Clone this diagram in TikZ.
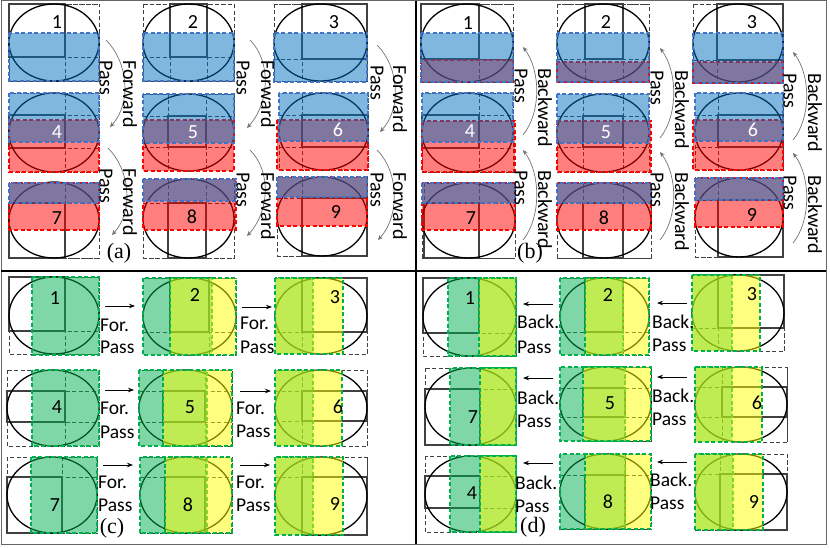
\documentclass[tikz,border=0pt]{standalone}
\usepackage{fontspec}
\setmainfont{Carlito}
\newfontfamily\panelfont{Liberation Serif}
\usetikzlibrary{arrows.meta}
\definecolor{cBlue}{RGB}{0,112,192}
\definecolor{cBlueLine}{RGB}{68,114,196}
\definecolor{cRed}{RGB}{255,0,0}
\definecolor{cGreen}{RGB}{0,176,80}
\definecolor{cYellow}{RGB}{255,255,0}
% x1 y1 x2 y2 (padded region)  tx1 ty1 tx2 ty2 (tile)
\newcommand{\drawtile}[8]{%
  \draw[outerbox] (#5,#2) -- (#5,#4) (#7,#2) -- (#7,#4) (#1,#6) -- (#3,#6) (#1,#8) -- (#3,#8);
  \draw[outerbox] (#1,#2) rectangle (#3,#4);
  \draw[tilebox] (#5,#6) rectangle (#7,#8);
  \draw[ell] ({(#1+#3)/2},{(#2+#4)/2}) ellipse ({(#3-#1)/2} and {(#4-#2)/2});
}
\begin{document}
\begin{tikzpicture}[x=1pt,y=-1pt,
  outerbox/.style={draw=black!75, line width=0.8pt, dash pattern=on 4pt off 2.5pt},
  tilebox/.style={draw=black!75, line width=1.1pt},
  ell/.style={draw=black, line width=1.3pt},
  bred/.style={fill=cRed, fill opacity=0.5, draw=cRed, line width=1.5pt, dash pattern=on 4pt off 2.5pt},
  bblue/.style={fill=cBlue, fill opacity=0.5, draw=cBlueLine, line width=1.3pt, dash pattern=on 4pt off 2.5pt},
  bgreen/.style={fill=cGreen, fill opacity=0.5, draw=cGreen, line width=1.3pt, dash pattern=on 4pt off 2.5pt},
  byellow/.style={fill=cYellow, fill opacity=0.5, draw=cGreen, line width=1.3pt, dash pattern=on 4pt off 2.5pt},
  num/.style={inner sep=0pt, font=\fontsize{20}{22}\selectfont},
  numw/.style={num, text=white},
  rottext/.style={inner sep=0pt, rotate=-90, anchor=west, font=\fontsize{20}{22}\selectfont},
  sidetext/.style={inner sep=0pt, anchor=west, font=\fontsize{19.5}{22}\selectfont},
  curvarrow/.style={draw=black!55, line width=0.7pt, -{Stealth[length=5pt,width=4.5pt]}},
  passarrow/.style={draw=black, line width=0.8pt, -{Stealth[length=6pt,width=4.5pt]}},
  panellabel/.style={inner sep=0pt, font=\panelfont\fontsize{22}{24}\selectfont}
]
\useasboundingbox (0,0) rectangle (830,548);
\draw[black!60, line width=1pt] (1,1) rectangle (826,544);
\draw[black, line width=1.2pt] (416,1) -- (416,544);
\draw[black, line width=1.2pt] (1,271) -- (826,271);

%%%%%%%%%%%%%%%% panel (a)
\drawtile{9}{4}{99}{81}{9}{4}{65}{57}
\path[bblue] (9,33) rectangle (99,81);
\node[num] (la1) at (57,22) {1};
\drawtile{143}{4}{234}{81}{170}{4}{207}{57}
\path[bblue] (143,33) rectangle (234,81);
\node[num] (la2) at (193,22) {2};
\drawtile{274}{4}{367}{81}{302}{4}{367}{59}
\path[bblue] (274,33) rectangle (367,82);
\node[num] (la3) at (334,22) {3};
\drawtile{9}{93}{99}{172}{9}{115}{65}{148}
\path[bred] (9,120) rectangle (99,172);
\path[bblue] (9,93) rectangle (99,142);
\node[numw] (la4) at (57,132) {4};
\drawtile{143}{94}{234}{171}{168}{116}{206}{147}
\path[bred] (143,120) rectangle (234,171);
\path[bblue] (143,94) rectangle (234,143);
\node[numw] (la5) at (193,132) {5};
\drawtile{279}{93}{368}{170}{302}{115}{368}{147}
\path[bred] (277,120) rectangle (368,170);
\path[bblue] (279,93) rectangle (368,141);
\node[numw] (la6) at (338,130) {6};
\drawtile{9}{182}{99}{258}{9}{203}{65}{258}
\path[bred] (9,183) rectangle (99,230);
\path[bblue] (9,183) rectangle (99,203);
\node[num] (la7) at (57,218) {7};
\drawtile{143}{179}{234}{258}{168}{203}{206}{258}
\path[bred] (143,179) rectangle (236,230);
\path[bblue] (143,179) rectangle (236,201);
\node[num] (la8) at (192,217) {8};
\drawtile{277}{177}{367}{256}{302}{198}{367}{256}
\path[bred] (277,177) rectangle (367,226);
\path[bblue] (277,177) rectangle (367,197);
\node[num] (la9) at (336,212) {9};

\coordinate (af1s) at (106,40);  \coordinate (af1e) at (110,127);
\coordinate (af2s) at (108,148); \coordinate (af2e) at (112,235);
\coordinate (af3s) at (250,40);  \coordinate (af3e) at (247,128);
\coordinate (af4s) at (250,150); \coordinate (af4e) at (247,236);
\coordinate (af5s) at (377,45);  \coordinate (af5e) at (380,132);
\coordinate (af6s) at (377,150); \coordinate (af6e) at (378,240);
\foreach \i in {1,...,6}{
  \draw[curvarrow] (af\i s) .. controls +(22,22) and +(22,-24) .. (af\i e);
}
\node[rottext] (taf1) at (130,60) {Forward};  \node[rottext] (tap1) at (106,60) {Pass};
\node[rottext] (taf2) at (130,168) {Forward}; \node[rottext] (tap2) at (106,168) {Pass};
\node[rottext] (taf3) at (268,60) {Forward};  \node[rottext] (tap3) at (243,60) {Pass};
\node[rottext] (taf4) at (268,172) {Forward}; \node[rottext] (tap4) at (243,172) {Pass};
\node[rottext] (taf5) at (400,65) {Forward};  \node[rottext] (tap5) at (377,65) {Pass};
\node[rottext] (taf6) at (400,172) {Forward}; \node[rottext] (tap6) at (377,172) {Pass};
\node[panellabel] (pa) at (119,253) {(a)};

%%%%%%%%%%%%%%%% panel (b)
\drawtile{421}{4}{513}{82}{421}{4}{479}{59}
\path[bred] (421,60) rectangle (513,82);
\path[bblue] (421,33) rectangle (513,82);
\node[num] (lb1) at (468,23) {1};
\drawtile{557}{4}{649}{82}{585}{4}{623}{59}
\path[bred] (557,62) rectangle (649,82);
\path[bblue] (557,33) rectangle (649,82);
\node[num] (lb2) at (606,22) {2};
\drawtile{693}{4}{783}{82}{717}{4}{783}{60}
\path[bred] (693,62) rectangle (783,83);
\path[bblue] (693,33) rectangle (783,83);
\node[num] (lb3) at (752,22) {3};
\drawtile{422}{93}{513}{172}{422}{115}{479}{148}
\path[bred] (422,121) rectangle (515,172);
\path[bblue] (422,93) rectangle (513,142);
\node[numw] (lb4) at (470,131) {4};
\drawtile{557}{94}{649}{172}{583}{116}{623}{147}
\path[bred] (557,121) rectangle (651,172);
\path[bblue] (557,94) rectangle (649,143);
\node[numw] (lb5) at (606,132) {5};
\drawtile{695}{93}{783}{170}{718}{115}{783}{147}
\path[bred] (693,120) rectangle (783,170);
\path[bblue] (695,93) rectangle (783,141);
\node[numw] (lb6) at (753,130) {6};
\drawtile{422}{183}{515}{258}{424}{203}{479}{258}
\path[bred] (422,183) rectangle (515,230);
\path[bblue] (422,183) rectangle (515,203);
\node[num] (lb7) at (471,218) {7};
\drawtile{557}{183}{651}{258}{583}{203}{623}{258}
\path[bred] (557,183) rectangle (651,230);
\path[bblue] (557,183) rectangle (651,203);
\node[num] (lb8) at (604,218) {8};
\drawtile{695}{178}{783}{257}{718}{200}{783}{257}
\path[bred] (695,178) rectangle (783,227);
\path[bblue] (695,178) rectangle (783,200);
\node[num] (lb9) at (752,215) {9};

\coordinate (ab1s) at (523,135); \coordinate (ab1e) at (523,47);
\coordinate (ab2s) at (523,240); \coordinate (ab2e) at (523,150);
\coordinate (ab3s) at (660,138); \coordinate (ab3e) at (660,48);
\coordinate (ab4s) at (660,240); \coordinate (ab4e) at (660,152);
\coordinate (ab5s) at (793,140); \coordinate (ab5e) at (793,52);
\coordinate (ab6s) at (793,243); \coordinate (ab6e) at (793,153);
\foreach \i in {1,...,6}{
  \draw[curvarrow] (ab\i s) .. controls +(18,-22) and +(18,24) .. (ab\i e);
}
\node[rottext] (tbb1) at (545,68) {Backward};  \node[rottext] (tbp1) at (521,68) {Pass};
\node[rottext] (tbb2) at (545,170) {Backward}; \node[rottext] (tbp2) at (521,170) {Pass};
\node[rottext] (tbb3) at (682,70) {Backward};  \node[rottext] (tbp3) at (657,70) {Pass};
\node[rottext] (tbb4) at (682,172) {Backward}; \node[rottext] (tbp4) at (657,172) {Pass};
\node[rottext] (tbb5) at (815,73) {Backward};  \node[rottext] (tbp5) at (790,73) {Pass};
\node[rottext] (tbb6) at (815,175) {Backward}; \node[rottext] (tbp6) at (790,175) {Pass};
\node[panellabel] (pb) at (530,253) {(b)};

%%%%%%%%%%%%%%%% panel (c)
\drawtile{9}{277}{99}{354}{9}{277}{65}{331}
\path[bgreen] (32,277) rectangle (99,355);
\node[num] (lc1) at (55,298) {1};
\drawtile{143}{278}{236}{355}{170}{278}{209}{332}
\path[bgreen] (143,278) rectangle (212,355);
\path[byellow] (170,278) rectangle (236,355);
\node[num] (lc2) at (195,295) {2};
\drawtile{275}{278}{367}{354}{302}{278}{367}{332}
\path[bgreen] (275,278) rectangle (313,354);
\path[byellow] (275,278) rectangle (343,354);
\node[num] (lc3) at (335,297) {3};
\drawtile{7}{370}{99}{446}{7}{391}{65}{422}
\path[bgreen] (32,370) rectangle (99,446);
\node[num] (lc4) at (57,407) {4};
\drawtile{139}{370}{232}{446}{163}{391}{205}{422}
\path[bgreen] (139,370) rectangle (207,446);
\path[byellow] (163,370) rectangle (232,446);
\node[num] (lc5) at (190,407) {5};
\drawtile{275}{370}{367}{446}{302}{391}{367}{421}
\path[bgreen] (275,370) rectangle (313,446);
\path[byellow] (275,370) rectangle (342,446);
\node[num] (lc6) at (338,407) {6};
\drawtile{7}{457}{97}{533}{7}{477}{62}{533}
\path[bgreen] (31,457) rectangle (97,533);
\node[num] (lc7) at (55,505) {7};
\drawtile{140}{457}{232}{533}{165}{477}{205}{533}
\path[bgreen] (140,457) rectangle (207,533);
\path[byellow] (165,457) rectangle (232,533);
\node[num] (lc8) at (188,505) {8};
\drawtile{275}{457}{367}{535}{302}{477}{367}{535}
\path[bgreen] (275,457) rectangle (313,535);
\path[byellow] (275,457) rectangle (343,535);
\node[num] (lc9) at (335,504) {9};

\coordinate (cf1s) at (105,306); \coordinate (cf1e) at (135,306);
\coordinate (cf2s) at (105,390); \coordinate (cf2e) at (134,390);
\coordinate (cf3s) at (103,465); \coordinate (cf3e) at (133,465);
\coordinate (cf4s) at (242,307); \coordinate (cf4e) at (272,307);
\coordinate (cf5s) at (240,391); \coordinate (cf5e) at (271,391);
\coordinate (cf6s) at (240,465); \coordinate (cf6e) at (270,465);
\foreach \i in {1,...,6}{ \draw[passarrow] (cf\i s) -- (cf\i e); }
\node[sidetext] (tcf1) at (100,325) {For.}; \node[sidetext] (tcp1) at (100,347) {Pass};
\node[sidetext] (tcf2) at (100,408) {For.}; \node[sidetext] (tcp2) at (100,432) {Pass};
\node[sidetext] (tcf3) at (98,482) {For.};  \node[sidetext] (tcp3) at (98,505) {Pass};
\node[sidetext] (tcf4) at (240,323) {For.}; \node[sidetext] (tcp4) at (240,347) {Pass};
\node[sidetext] (tcf5) at (236,408) {For.}; \node[sidetext] (tcp5) at (236,431) {Pass};
\node[sidetext] (tcf6) at (236,482) {For.}; \node[sidetext] (tcp6) at (236,505) {Pass};
\node[panellabel] (pc) at (112,528) {(c)};

%%%%%%%%%%%%%%%% panel (d)
\drawtile{423}{278}{516}{356}{423}{278}{479}{333}
\path[bgreen] (448,278) rectangle (516,356);
\path[byellow] (479,278) rectangle (516,356);
\node[num] (ld1) at (470,298) {1};
\drawtile{560}{278}{649}{355}{585}{278}{623}{332}
\path[bgreen] (560,278) rectangle (623,355);
\path[byellow] (585,278) rectangle (649,355);
\node[num] (ld2) at (608,295) {2};
\drawtile{692}{275}{784}{351}{718}{275}{784}{328}
\path[bgreen] (692,275) rectangle (732,351);
\path[byellow] (692,275) rectangle (760,351);
\node[num] (ld3) at (752,294) {3};
\drawtile{425}{368}{516}{445}{425}{389}{480}{445}
\path[bgreen] (450,368) rectangle (516,445);
\path[byellow] (480,368) rectangle (516,445);
\node[num] (ld7) at (473,417) {7};
\drawtile{560}{367}{651}{441}{583}{388}{625}{417}
\path[bgreen] (560,367) rectangle (625,441);
\path[byellow] (583,367) rectangle (651,441);
\node[num] (ld5) at (610,403) {5};
\drawtile{695}{367}{787}{442}{722}{387}{787}{417}
\path[bgreen] (695,367) rectangle (732,442);
\path[byellow] (695,367) rectangle (762,442);
\node[num] (ld6) at (757,403) {6};
\drawtile{425}{456}{516}{532}{425}{476}{480}{508}
\path[bgreen] (450,456) rectangle (516,532);
\path[byellow] (480,456) rectangle (516,532);
\node[num] (ld4) at (472,493) {4};
\drawtile{560}{454}{651}{529}{585}{475}{625}{529}
\path[bgreen] (560,454) rectangle (625,529);
\path[byellow] (585,454) rectangle (651,529);
\node[num] (ld8) at (608,502) {8};
\drawtile{695}{454}{787}{530}{720}{474}{787}{530}
\path[bgreen] (695,454) rectangle (733,530);
\path[byellow] (695,454) rectangle (763,530);
\node[num] (ld9) at (754,502) {9};

\coordinate (db1s) at (553,304); \coordinate (db1e) at (523,304);
\coordinate (db2s) at (553,378); \coordinate (db2e) at (523,378);
\coordinate (db3s) at (553,463); \coordinate (db3e) at (523,463);
\coordinate (db4s) at (687,303); \coordinate (db4e) at (657,303);
\coordinate (db5s) at (687,377); \coordinate (db5e) at (657,377);
\coordinate (db6s) at (687,462); \coordinate (db6e) at (657,462);
\foreach \i in {1,...,6}{ \draw[passarrow] (db\i s) -- (db\i e); }
\node[sidetext] (tdb1) at (517,322) {Back.}; \node[sidetext] (tdp1) at (517,347) {Pass};
\node[sidetext] (tdb2) at (517,398) {Back.}; \node[sidetext] (tdp2) at (517,421) {Pass};
\node[sidetext] (tdb3) at (515,483) {Back.}; \node[sidetext] (tdp3) at (515,506) {Pass};
\node[sidetext] (tdb4) at (652,322) {Back.}; \node[sidetext] (tdp4) at (652,345) {Pass};
\node[sidetext] (tdb5) at (652,396) {Back.}; \node[sidetext] (tdp5) at (652,419) {Pass};
\node[sidetext] (tdb6) at (650,480) {Back.}; \node[sidetext] (tdp6) at (650,503) {Pass};
\node[panellabel] (pd) at (533,527) {(d)};
\end{tikzpicture}
\end{document}
